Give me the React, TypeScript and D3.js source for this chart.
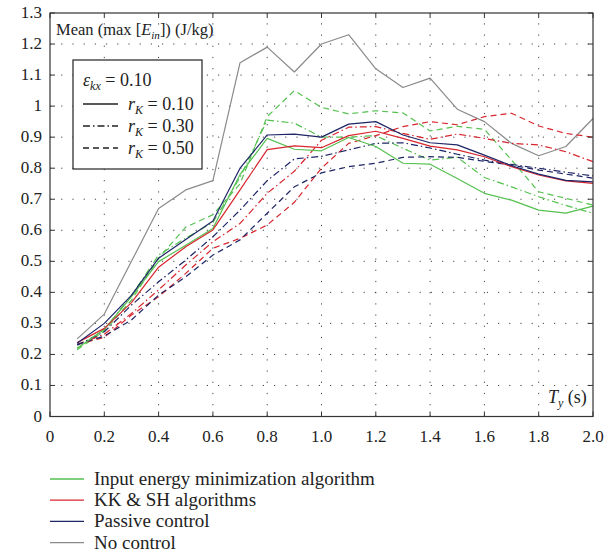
import React from "react";
import * as d3 from "d3";

const periods = [0.1,0.2,0.3,0.4,0.5,0.6,0.7,0.8,0.9,1.0,1.1,1.2,1.3,1.4,1.5,1.6,1.7,1.8,1.9,2.0];

const noControl = [0.25,0.33,0.50,0.67,0.73,0.76,1.14,1.19,1.11,1.20,1.23,1.12,1.06,1.09,0.99,0.95,0.88,0.84,0.87,0.96];

const passive010 = [0.236,0.30,0.39,0.51,0.57,0.63,0.80,0.907,0.91,0.90,0.942,0.95,0.907,0.882,0.875,0.842,0.808,0.781,0.761,0.756];
const passive030 = [0.23,0.273,0.359,0.434,0.504,0.579,0.665,0.76,0.83,0.838,0.859,0.88,0.882,0.865,0.845,0.826,0.812,0.80,0.787,0.775];
const passive050 = [0.232,0.259,0.311,0.391,0.45,0.52,0.569,0.655,0.74,0.785,0.805,0.816,0.835,0.837,0.835,0.822,0.81,0.794,0.781,0.768];

const kk010 = [0.238,0.284,0.367,0.481,0.547,0.601,0.73,0.86,0.872,0.866,0.905,0.919,0.896,0.871,0.859,0.837,0.805,0.778,0.759,0.751];
const kk030 = [0.232,0.265,0.332,0.408,0.488,0.563,0.622,0.719,0.79,0.89,0.932,0.934,0.912,0.893,0.91,0.896,0.88,0.875,0.853,0.821];
const kk050 = [0.232,0.255,0.327,0.386,0.461,0.542,0.574,0.617,0.69,0.80,0.88,0.905,0.934,0.95,0.94,0.966,0.977,0.936,0.912,0.90];

const iem010 = [0.22,0.281,0.386,0.499,0.552,0.606,0.78,0.896,0.861,0.856,0.899,0.87,0.816,0.813,0.767,0.719,0.697,0.665,0.655,0.678];
const iem030 = [0.22,0.28,0.39,0.52,0.575,0.625,0.77,0.955,0.945,0.90,0.90,0.905,0.864,0.826,0.835,0.77,0.74,0.708,0.68,0.655];
const iem050 = [0.215,0.275,0.375,0.51,0.61,0.65,0.75,0.966,1.05,0.996,0.975,0.985,0.978,0.92,0.935,0.925,0.826,0.724,0.703,0.681];

const xTicks = [0,0.2,0.4,0.6,0.8,1.0,1.2,1.4,1.6,1.8,2.0];
const xTickLabels = ["0","0.2","0.4","0.6","0.8","1.0","1.2","1.4","1.6","1.8","2.0"];
const yTicks = [0,0.1,0.2,0.3,0.4,0.5,0.6,0.7,0.8,0.9,1,1.1,1.2,1.3];
const yTickLabels = ["0","0.1","0.2","0.3","0.4","0.5","0.6","0.7","0.8","0.9","1","1.1","1.2","1.3"];

const algoNames = ["Input energy minimization algorithm","KK & SH algorithms","Passive control","No control"];
const rkLabels = ["0.10","0.30","0.50"];

const GREEN = "#55c150";
const RED = "#d8262e";
const NAVY = "#1e2566";
const GRAY = "#8a8a8a";
const DASH = "6 4";
const DASHDOT = "7 3 1.5 3";

const W = 612, H = 552;
const L = 50, R = 593, T = 13, B = 416.5;
const FONT = "'Liberation Serif', 'Times New Roman', serif";

export default function App() {
  const x = d3.scaleLinear().domain([0, 2]).range([L, R]);
  const y = d3.scaleLinear().domain([0, 1.3]).range([B, T]);
  const line = d3.line<number>().x((_, i) => x(periods[i])).y(d => y(d));

  const series = [
    { v: noControl, c: GRAY, d: undefined },
    { v: iem050, c: GREEN, d: DASH },
    { v: iem030, c: GREEN, d: DASHDOT },
    { v: kk050, c: RED, d: DASH },
    { v: kk030, c: RED, d: DASHDOT },
    { v: passive050, c: NAVY, d: DASH },
    { v: passive030, c: NAVY, d: DASHDOT },
    { v: iem010, c: GREEN, d: undefined },
    { v: kk010, c: RED, d: undefined },
    { v: passive010, c: NAVY, d: undefined },
  ];
  const legendColors = [GREEN, RED, NAVY, GRAY];
  const styles = [undefined, DASHDOT, DASH];

  return (
    <svg width={W} height={H} style={{ display: "block", position: "absolute", left: 0, top: 0 }} fontFamily={FONT}>
      <rect x={0} y={0} width={W} height={H} fill="#fff" />
      {/* grid */}
      {xTicks.slice(1, -1).map((t, i) => (
        <line key={"gx" + i} x1={x(t)} x2={x(t)} y1={B} y2={T} stroke="#444" strokeWidth={1} strokeDasharray="1.2 10" />
      ))}
      {yTicks.slice(1, -1).map((t, i) => (
        <line key={"gy" + i} x1={L} x2={R} y1={y(t)} y2={y(t)} stroke="#444" strokeWidth={1} strokeDasharray="1.2 10" />
      ))}
      {/* series */}
      {series.map((s, i) => (
        <path key={"s" + i} d={line(s.v) || ""} fill="none" stroke={s.c} strokeWidth={1.2} strokeDasharray={s.d} strokeLinejoin="round" />
      ))}
      {/* frame */}
      <rect x={L} y={T} width={R - L} height={B - T} fill="none" stroke="#333" strokeWidth={1.2} />
      {/* ticks */}
      {xTicks.map((t, i) => (
        <g key={"tx" + i}>
          <line x1={x(t)} x2={x(t)} y1={B} y2={B - 5} stroke="#333" />
          <line x1={x(t)} x2={x(t)} y1={T} y2={T + 5} stroke="#333" />
          <text x={x(t)} y={B + 25} textAnchor="middle" fontSize={17} fill="#222">{xTickLabels[i]}</text>
        </g>
      ))}
      {yTicks.map((t, i) => (
        <g key={"ty" + i}>
          <line x1={L} x2={L + 5} y1={y(t)} y2={y(t)} stroke="#333" />
          <line x1={R} x2={R - 5} y1={y(t)} y2={y(t)} stroke="#333" />
          <text x={L - 8} y={y(t) + 5} textAnchor="end" fontSize={17} fill="#222">{yTickLabels[i]}</text>
        </g>
      ))}
      {/* y title */}
      <text x={56} y={35} fontSize={16.5} fill="#222">
        Mean (max [<tspan fontStyle="italic">E</tspan><tspan fontStyle="italic" fontSize={11} dy={4}>in</tspan><tspan dy={-4}>]) (J/kg)</tspan>
      </text>
      {/* x title */}
      <text x={548} y={403} fontSize={18} fill="#222">
        <tspan fontStyle="italic">T</tspan><tspan fontStyle="italic" fontSize={12} dy={4}>y</tspan><tspan dy={-4}> (s)</tspan>
      </text>
      {/* inner legend */}
      <rect x={73} y={60} width={129} height={109} fill="#fff" stroke="#222" strokeWidth={1.2} />
      <text x={83} y={86} fontSize={18} fill="#222">
        <tspan fontStyle="italic">ε</tspan><tspan fontStyle="italic" fontSize={12} dy={4}>kx</tspan><tspan dy={-4}> = 0.10</tspan>
      </text>
      {rkLabels.map((lab, i) => (
        <g key={"rk" + i}>
          <line x1={83} x2={118} y1={104 + i * 22} y2={104 + i * 22} stroke="#222" strokeWidth={1.3} strokeDasharray={styles[i]} />
          <text x={128} y={110 + i * 22} fontSize={18} fill="#222">
            <tspan fontStyle="italic">r</tspan><tspan fontStyle="italic" fontSize={12} dy={4}>K</tspan><tspan dy={-4}> = {lab}</tspan>
          </text>
        </g>
      ))}
      {/* bottom legend */}
      {algoNames.map((name, i) => (
        <g key={"lg" + i}>
          <line x1={50} x2={84} y1={479 + i * 21.2} y2={479 + i * 21.2} stroke={legendColors[i]} strokeWidth={1.3} />
          <text x={94} y={485 + i * 21.2} fontSize={19} fill="#222">{name}</text>
        </g>
      ))}
    </svg>
  );
}
